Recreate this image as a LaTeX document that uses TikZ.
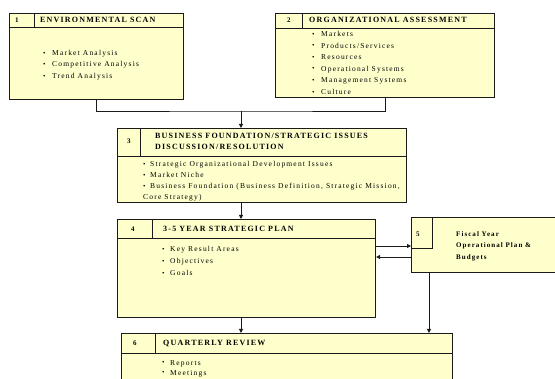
\documentclass[tikz,border=0pt]{standalone}
\usepackage{fontspec}
\setmainfont{Liberation Serif}
\newfontfamily\headfont{Liberation Serif}[LetterSpace=15]
\newfontfamily\bodyfont{Liberation Serif}[LetterSpace=16]
\usetikzlibrary{arrows.meta}

\definecolor{boxfill}{HTML}{FFFFCC}
\definecolor{ink}{HTML}{1A1A1A}

% bullet marker followed by its item text
\newcommand\bul[2][9pt]{\makebox[#1][l]{\raisebox{0.3pt}{\fontsize{7}{7}\selectfont\textbullet}}#2}

\begin{document}
\begin{tikzpicture}[x=1pt,y=-1pt,
  panel/.style={draw=ink, fill=boxfill, line width=1.1pt, rectangle, inner sep=0pt, anchor=north west},
  rule/.style={draw=ink, line width=0.9pt},
  link/.style={draw=ink, line width=0.9pt},
  flow/.style={link, -{Triangle[length=4pt,width=4pt]}},
  numtxt/.style={font=\headfont\bfseries\fontsize{7}{8}\selectfont, anchor=west, inner sep=0pt},
  headtxt/.style={font=\headfont\bfseries\fontsize{8}{11}\selectfont, anchor=west, inner sep=0pt, align=left},
  listtxt/.style={font=\bodyfont\fontsize{7.5}{11.5}\selectfont, anchor=north west, inner sep=0pt, align=left},
]
\useasboundingbox (0,0) rectangle (555,379);

% ---------- 1: environmental scan ----------
\node[panel, minimum width=174pt, minimum height=86pt] (b1) at (9,13) {};
\draw[rule] (b1.west |- 0,27) -- (b1.east |- 0,27);
\draw[rule] (34,13) -- (34,27);
\node[numtxt] (n1) at (15,20) {1};
\node[headtxt] (h1) at (40,20) {ENVIRONMENTAL SCAN};
\node[listtxt] (l1) at (43,50) {\bul{Market Analysis}\\ \bul{Competitive Analysis}\\ \bul{Trend Analysis}};

% ---------- 2: organizational assessment ----------
\node[panel, minimum width=219pt, minimum height=84pt] (b2) at (275,13) {};
\draw[rule] (b2.west |- 0,28) -- (b2.east |- 0,28);
\draw[rule] (302,13) -- (302,28);
\node[numtxt] (n2) at (287,20) {2};
\node[headtxt] (h2) at (309,20) {ORGANIZATIONAL ASSESSMENT};
\node[listtxt, font=\bodyfont\fontsize{7.5}{11.6}\selectfont] (l2) at (312,31)
  {\bul{Markets}\\ \bul{Products/Services}\\ \bul{Resources}\\ \bul{Operational Systems}\\ \bul{Management Systems}\\ \bul{Culture}};

% ---------- 3: business foundation ----------
\node[panel, minimum width=289pt, minimum height=74pt] (b3) at (117,128) {};
\draw[rule] (b3.west |- 0,156) -- (b3.east |- 0,156);
\draw[rule] (140,128) -- (140,156);
\node[numtxt] (n3) at (127,141.5) {3};
\node[headtxt, anchor=north west] (h3) at (155,133)
  {BUSINESS FOUNDATION/STRATEGIC ISSUES\\ DISCUSSION/RESOLUTION};
\node[listtxt, font=\bodyfont\fontsize{7.5}{11}\selectfont] (l3) at (143,161)
  {\bul[7pt]{Strategic Organizational Development Issues}\\ \bul[7pt]{Market Niche}\\
   \bul[7pt]{Business Foundation (Business Definition, Strategic Mission,}\\ Core Strategy)};

% ---------- 4: strategic plan ----------
\node[panel, minimum width=258pt, minimum height=98pt] (b4) at (117,219) {};
\draw[rule] (b4.west |- 0,238) -- (b4.east |- 0,238);
\draw[rule] (152,219) -- (152,238);
\node[numtxt] (n4) at (131,229) {4};
\node[headtxt] (h4) at (163,229) {3-5 YEAR STRATEGIC PLAN};
\node[listtxt, font=\bodyfont\fontsize{7.5}{12}\selectfont] (l4) at (162,246)
  {\bul[8pt]{Key Result Areas}\\ \bul[8pt]{Objectives}\\ \bul[8pt]{Goals}};

% ---------- 5: operational plan ----------
\node[panel, minimum width=149pt, minimum height=55pt] (b5) at (411,217) {};
\draw[rule] (b5.west |- 0,248) -| (432,217);
\node[numtxt] (n5) at (416,234) {5};
\node[listtxt, font=\headfont\bfseries\fontsize{7}{11.5}\selectfont] (l5) at (456,231)
  {Fiscal Year\\ Operational Plan \&\\ Budgets};

% ---------- 6: quarterly review ----------
\node[panel, minimum width=331pt, minimum height=60pt] (b6) at (121,333) {};
\draw[rule] (b6.west |- 0,353) -- (b6.east |- 0,353);
\draw[rule] (155,333) -- (155,353);
\node[numtxt] (n6) at (133,343.5) {6};
\node[headtxt] (h6) at (163,343.5) {QUARTERLY REVIEW};
\node[listtxt, font=\bodyfont\fontsize{7.5}{10}\selectfont] (l6) at (162,360)
  {\bul[8pt]{Reports}\\ \bul[8pt]{Meetings}};

% ---------- connectors ----------
\coordinate (join) at (241,111);
\draw[link] (b1.south) |- (join) -| (b2.south);
\draw[flow] (join) -- (join |- b3.north);
\draw[flow] (b3.south -| join) -- (b4.north -| join);
\draw[flow] (b4.south -| join) -- (b6.north -| join);
\draw[flow] (b4.east |- 0,246) -- (b5.west |- 0,246);
\draw[flow] (b5.west |- 0,257) -- (b4.east |- 0,257);
\draw[flow] (b5.south -| 429,0) -- (b6.north -| 429,0);

\end{tikzpicture}
\end{document}
